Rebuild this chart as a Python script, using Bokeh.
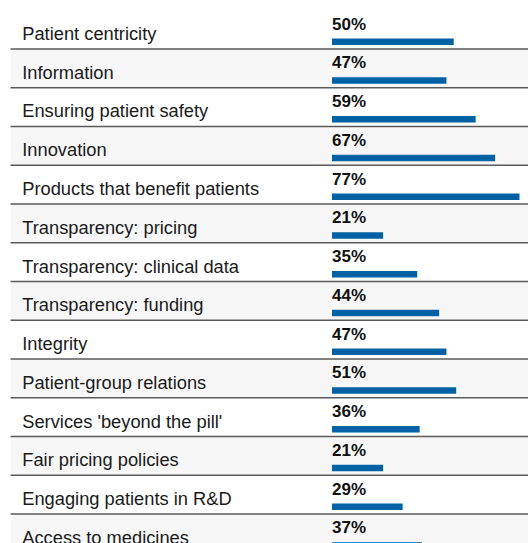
from bokeh.plotting import figure
from bokeh.models import Range1d, ColumnDataSource
from bokeh.core.properties import value
from bokeh.embed import file_html
from bokeh.resources import INLINE

categories = [
    "Patient centricity",
    "Information",
    "Ensuring patient safety",
    "Innovation",
    "Products that benefit patients",
    "Transparency: pricing",
    "Transparency: clinical data",
    "Transparency: funding",
    "Integrity",
    "Patient-group relations",
    "Services 'beyond the pill'",
    "Fair pricing policies",
    "Engaging patients in R&D",
    "Access to medicines",
]
values = [50, 47, 59, 67, 77, 21, 35, 44, 47, 51, 36, 21, 29, 37]

n = len(categories)
rows = list(range(n))

X_START, X_END = -132.85, 80.7
LEFT_EDGE = -132.0
LABEL_X = -127.2

src = ColumnDataSource(dict(
    row=rows,
    bar_y=[r + 0.81 for r in rows],
    pct_y=[r + 0.355 for r in rows],
    lab_y=[r + 0.60 for r in rows],
    val=values,
    pct=[f"{v}%" for v in values],
    cat=categories,
))

p = figure(width=528, height=543, output_backend="svg", toolbar_location=None,
           x_range=Range1d(X_START, X_END), y_range=Range1d(13.761, -0.045),
           x_axis_location=None, y_axis_location=None,
           min_border_left=8, min_border_top=8, min_border_right=0, min_border_bottom=0)
p.grid.visible = False
p.outline_line_color = None
p.background_fill_color = "white"
p.border_fill_color = "white"

grey_rows = [r for r in rows if r % 2 == 1]
p.quad(left=LEFT_EDGE, right=X_END, top=grey_rows, bottom=[r + 1 for r in grey_rows],
       fill_color="#f7f7f7", line_color=None)

seps = [r + 1 for r in rows]
p.segment(x0=LEFT_EDGE, x1=X_END, y0=seps, y1=seps, line_color="#5a5a5a", line_width=1.5)

p.hbar(y="bar_y", left=0, right="val", height=0.168, source=src,
       fill_color="#0062a5", line_color=None)

p.text(x=0, y="pct_y", text="pct", source=src, text_font=value("Liberation Sans"),
       text_font_style="bold", text_font_size="17px", text_color="#111111",
       text_baseline="alphabetic", text_align="left")

p.text(x=LABEL_X, y="lab_y", text="cat", source=src, text_font=value("Liberation Sans"),
       text_font_size="18.3px", text_color="#1a1a1a",
       text_baseline="alphabetic", text_align="left")

open("out.html", "w").write(file_html(p, INLINE))
